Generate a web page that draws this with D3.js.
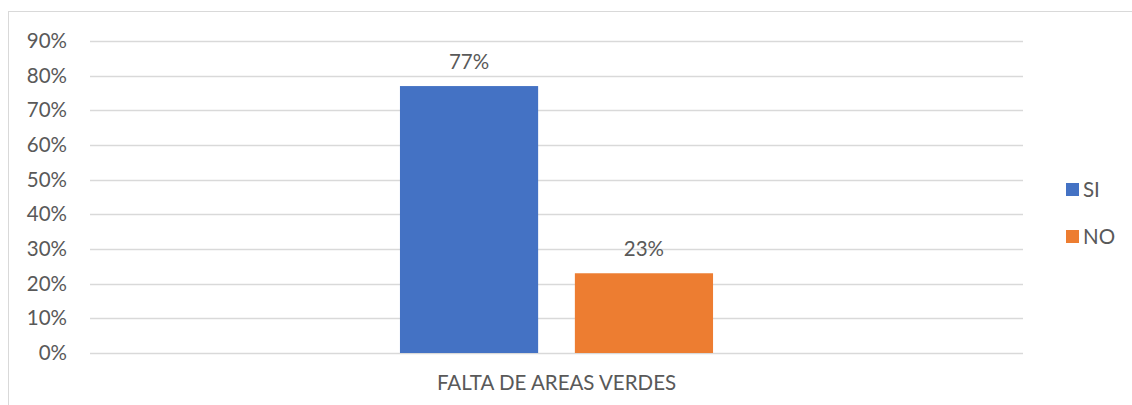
<!DOCTYPE html>
<html>
<head>
<meta charset="utf-8">
<script src="https://cdn.jsdelivr.net/npm/d3@7"></script>
<style>
  body { margin: 0; background: #fff; }
  text { font-family: Lato, "Open Sans", sans-serif; fill: #595959; }
</style>
</head>
<body>
<script>
const categories = ['FALTA DE AREAS VERDES']
const series = ['SI', 'NO']
const values = { SI: [0.77], NO: [0.23] }
const yTicks = [0, 0.1, 0.2, 0.3, 0.4, 0.5, 0.6, 0.7, 0.8, 0.9]
const colors = { SI: '#4472C4', NO: '#ED7D31' }

const W = 1132, H = 405
const margin = { top: 41, right: 109, bottom: 52, left: 90 }
const innerW = W - margin.left - margin.right
const innerH = H - margin.top - margin.bottom
const fontSize = 20.5

const svg = d3.select('body').append('svg')
  .attr('width', W)
  .attr('height', H)

// chart frame (only top and left visible in the original)
svg.append('rect')
  .attr('x', 8.5).attr('y', 11.5)
  .attr('width', W + 10).attr('height', H + 10)
  .attr('fill', 'none')
  .attr('stroke', '#d9d9d9')

const g = svg.append('g')
  .attr('transform', `translate(${margin.left},${margin.top})`)

const y = d3.scaleLinear().domain([0, 0.9]).range([innerH, 0])

const x0 = d3.scaleBand()
  .domain(categories)
  .range([0, innerW])
  .paddingInner(0)
  .paddingOuter(0.99)

const x1 = d3.scaleBand()
  .domain(series)
  .range([0, x0.bandwidth()])
  .paddingInner(0.21)
  .paddingOuter(0)

// gridlines
g.append('g')
  .selectAll('line')
  .data(yTicks)
  .join('line')
    .attr('x1', 0)
    .attr('x2', innerW)
    .attr('y1', d => Math.round(y(d)) + 0.5)
    .attr('y2', d => Math.round(y(d)) + 0.5)
    .attr('stroke', '#d9d9d9')
    .attr('stroke-width', 1.3)

// y axis labels
const yAxis = d3.axisLeft(y)
  .tickValues(yTicks)
  .tickFormat(d3.format('.0%'))
  .tickSize(0)
  .tickPadding(23)

g.append('g')
  .call(yAxis)
  .call(s => s.select('.domain').remove())
  .selectAll('text')
    .attr('font-size', fontSize)
    .attr('fill', '#595959')
    .style('font-family', 'Lato, "Open Sans", sans-serif')

// bars
const cat = g.selectAll('.cat')
  .data(categories)
  .join('g')
    .attr('class', 'cat')
    .attr('transform', d => `translate(${x0(d)},0)`)

cat.selectAll('rect')
  .data((d, i) => series.map(s => ({ s, v: values[s][i] })))
  .join('rect')
    .attr('x', d => x1(d.s))
    .attr('y', d => y(d.v))
    .attr('width', x1.bandwidth())
    .attr('height', d => innerH - y(d.v))
    .attr('fill', d => colors[d.s])

cat.selectAll('.lbl')
  .data((d, i) => series.map(s => ({ s, v: values[s][i] })))
  .join('text')
    .attr('class', 'lbl')
    .attr('x', d => x1(d.s) + x1.bandwidth() / 2)
    .attr('y', d => y(d.v) - 17)
    .attr('text-anchor', 'middle')
    .attr('font-size', fontSize)
    .text(d => d3.format('.0%')(d.v))

// category axis
const xAxis = d3.axisBottom(x0).tickSize(0).tickPadding(22)
g.append('g')
  .attr('transform', `translate(0,${innerH})`)
  .call(xAxis)
  .call(s => s.select('.domain').remove())
  .selectAll('text')
    .attr('font-size', fontSize)
    .attr('fill', '#595959')
    .style('font-family', 'Lato, "Open Sans", sans-serif')

// legend
const legend = svg.append('g')
  .attr('transform', 'translate(1066,190)')

const item = legend.selectAll('g')
  .data(series)
  .join('g')
    .attr('transform', (d, i) => `translate(0,${i * 47})`)

item.append('rect')
  .attr('x', 0).attr('y', -7)
  .attr('width', 13).attr('height', 13)
  .attr('fill', d => colors[d])

item.append('text')
  .attr('x', 17)
  .attr('y', 0)
  .attr('dy', '0.35em')
  .attr('font-size', fontSize)
  .text(d => d)
</script>
</body>
</html>
